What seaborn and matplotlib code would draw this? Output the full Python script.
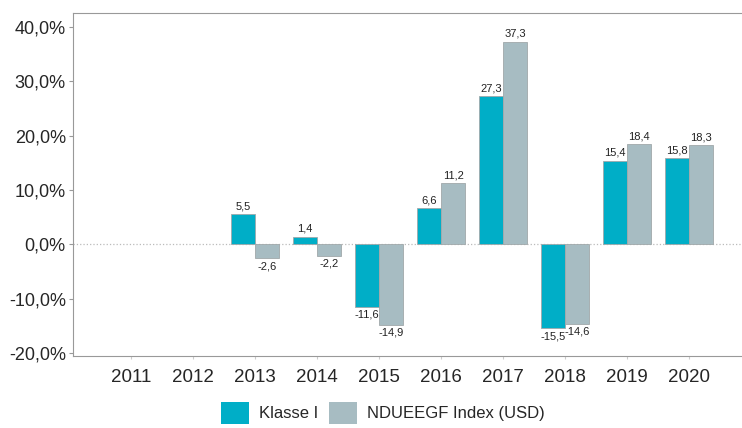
import pandas as pd
import numpy as np
import matplotlib
matplotlib.use('Agg')
import matplotlib.pyplot as plt
import seaborn as sns
from matplotlib.ticker import FuncFormatter

# Daten
jahre = ['2011', '2012', '2013', '2014', '2015', '2016', '2017', '2018', '2019', '2020']
klasse_i = [np.nan, np.nan, 5.5, 1.4, -11.6, 6.6, 27.3, -15.5, 15.4, 15.8]
index_usd = [np.nan, np.nan, -2.6, -2.2, -14.9, 11.2, 37.3, -14.6, 18.4, 18.3]
serien = ['Klasse I', 'NDUEEGF Index (USD)']
farben = ['#00AEC7', '#A7BCC2']

df = pd.DataFrame({
    'Jahr': jahre * 2,
    'Wert': klasse_i + index_usd,
    'Serie': [serien[0]] * len(jahre) + [serien[1]] * len(jahre),
})

sns.set_style('white')
plt.rcParams['font.family'] = ['Liberation Sans', 'DejaVu Sans']

fig = plt.figure(figsize=(7.42, 4.28), dpi=100)
ax = fig.add_axes([0.098, 0.168, 0.902, 0.802])

sns.barplot(data=df, x='Jahr', y='Wert', hue='Serie', palette=farben,
            order=jahre, hue_order=serien, width=0.78, saturation=1,
            edgecolor='#a0a8aa', linewidth=0.6, ax=ax)

# Werte an den Balken
for cont in ax.containers:
    labels = [('' if np.isnan(v) else f'{v:.1f}'.replace('.', ',')) for v in cont.datavalues]
    ax.bar_label(cont, labels=labels, padding=2, fontsize=8, color='#222222')

ax.axhline(0, color='#bbbbbb', linestyle=':', linewidth=0.9, zorder=0)

ax.set_ylim(-20.6, 42.6)
ax.set_xlim(-0.94, 9.85)
ax.set_yticks(range(-20, 41, 10))
ax.yaxis.set_major_formatter(FuncFormatter(lambda v, p: f'{v:.1f}%'.replace('.', ',')))
ax.set_xlabel('')
ax.set_ylabel('')
ax.tick_params(axis='y', labelsize=13, length=3, color='#999999', pad=2)
ax.tick_params(axis='x', labelsize=13.5, length=2, color='#cccccc', pad=7)
ax.tick_params(left=True, bottom=True)

for s in ['left', 'bottom', 'top']:
    ax.spines[s].set_color('#999999')
    ax.spines[s].set_linewidth(0.8)
ax.spines['right'].set_visible(False)

handles, lbls = ax.get_legend_handles_labels()
ax.get_legend().remove()
leg = fig.legend(handles, lbls, loc='center', bbox_to_anchor=(383 / 742, 0.035), ncol=2,
                 frameon=False, fontsize=12, handlelength=1.7, handleheight=1.7,
                 handletextpad=0.6, columnspacing=0.6)
for h in leg.legend_handles:
    h.set_edgecolor('none')

plt.savefig('out.png', dpi=100)
